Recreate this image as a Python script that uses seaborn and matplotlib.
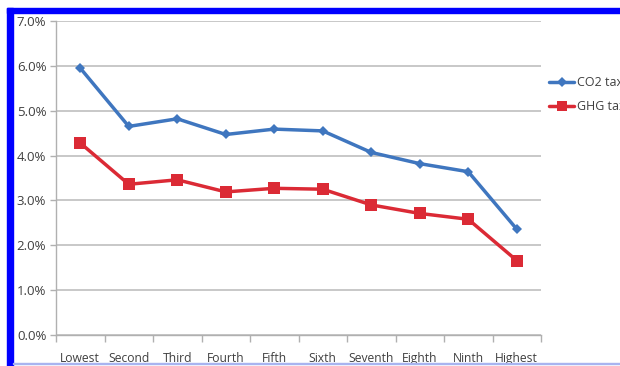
import matplotlib
matplotlib.use("Agg")
import matplotlib.pyplot as plt
import matplotlib.ticker as mticker
from matplotlib.patches import Rectangle
from matplotlib.lines import Line2D
import seaborn as sns
import pandas as pd

categories = ["Lowest", "Second", "Third", "Fourth", "Fifth", "Sixth",
              "Seventh", "Eighth", "Ninth", "Highest"]
co2_tax = [0.0595, 0.0465, 0.0482, 0.0447, 0.0459, 0.0455, 0.0407, 0.0382, 0.0364, 0.0236]
ghg_tax = [0.0428, 0.0336, 0.0346, 0.0319, 0.0327, 0.0325, 0.0290, 0.0271, 0.0258, 0.0166]
series_names = ["CO2 tax", "GHG tax"]
yticks = [0.0, 0.01, 0.02, 0.03, 0.04, 0.05, 0.06, 0.07]

df = pd.DataFrame({
    "cat": categories * 2,
    "val": co2_tax + ghg_tax,
    "series": [series_names[0]] * len(categories) + [series_names[1]] * len(categories),
})

sns.set_theme(style="white")
plt.rcParams["font.family"] = ["Open Sans", "DejaVu Sans"]

fig = plt.figure(figsize=(6.2, 3.66), dpi=100)
ax = fig.add_axes([56 / 620, 31 / 366, 485 / 620, 314 / 366])

blue = "#3f76bf"
red = "#db2a35"
palette = {series_names[0]: blue, series_names[1]: red}
markers = {series_names[0]: "D", series_names[1]: "s"}

sns.lineplot(data=df, x="cat", y="val", hue="series", style="series",
             palette=palette, markers=markers, dashes=False,
             linewidth=2.5, markersize=7, markeredgewidth=0,
             legend=False, ax=ax, sort=False)
for line in ax.get_lines():
    if line.get_marker() == "s":
        line.set_markersize(8)
    elif line.get_marker() == "D":
        line.set_markersize(5.5)

ax.set_xlim(-0.5, len(categories) - 0.5)
ax.set_ylim(0, 0.07)
ax.set_yticks(yticks)
ax.yaxis.set_major_formatter(mticker.FuncFormatter(lambda v, p: f"{v*100:.1f}%"))
ax.grid(axis="y", color="#c4c4c4", linewidth=1.3)
ax.set_axisbelow(True)
ax.set_xlabel("")
ax.set_ylabel("")

ax.set_xticks(range(len(categories)))
ax.set_xticklabels(categories)
ax.xaxis.set_minor_locator(mticker.FixedLocator([i - 0.5 for i in range(len(categories) + 1)]))
ax.tick_params(axis="x", which="major", length=0, pad=12, labelsize=8.7, labelcolor="#404040")
ax.tick_params(axis="x", which="minor", length=5, width=1, color="#b0b0b0", direction="out", bottom=True)
ax.tick_params(axis="y", length=4, width=1, color="#b0b0b0", direction="out", left=True,
               labelsize=9.5, labelcolor="#404040", pad=3)

for s in ["top", "right"]:
    ax.spines[s].set_visible(False)
for s in ["left", "bottom"]:
    ax.spines[s].set_color("#b0b0b0")
    ax.spines[s].set_linewidth(1)

handles = [Line2D([0], [0], color=blue, marker="D", markersize=5, linewidth=2.5, markeredgewidth=0),
           Line2D([0], [0], color=red, marker="s", markersize=7, linewidth=2.5, markeredgewidth=0)]
fig.legend(handles, series_names, loc="upper left", bbox_to_anchor=(538 / 620, 1 - 65 / 366),
           frameon=False, fontsize=9, handlelength=2.0, handletextpad=0.25,
           labelspacing=0.85, labelcolor="#404040")

# blue frame (left and top) and light line at bottom
fig.patches.append(Rectangle((7 / 620, 0), 6 / 620, 1 - 8 / 366, transform=fig.transFigure,
                             color="#0000ff", zorder=10))
fig.patches.append(Rectangle((7 / 620, 1 - 13 / 366), 1, 5 / 366, transform=fig.transFigure,
                             color="#0000ff", zorder=10))
fig.patches.append(Rectangle((13 / 620, 2 / 366), 1, 1.2 / 366, transform=fig.transFigure,
                             color="#a8b4f0", zorder=10))

fig.savefig("out.png", dpi=100)
